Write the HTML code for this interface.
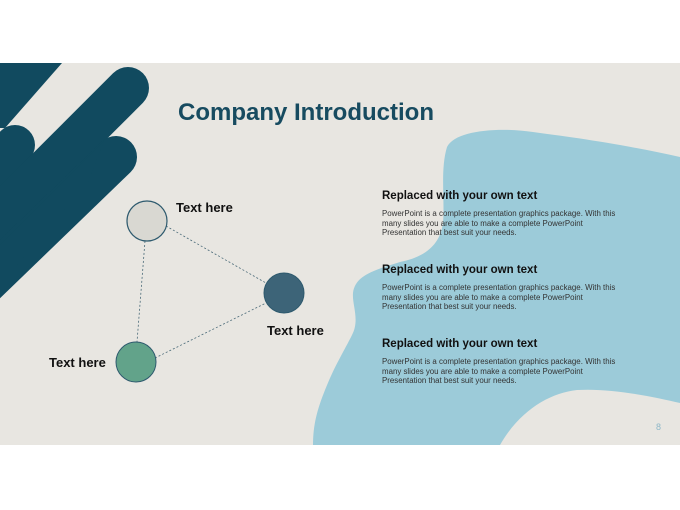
<!DOCTYPE html>
<html><head><style>
body{margin:0;width:680px;height:510px;background:#fff;position:relative;overflow:hidden;font-family:"Liberation Sans",sans-serif}
.t{position:absolute;white-space:nowrap}
.h{font-weight:bold;font-size:11.5px;color:#111}
.p{font-size:7.9px;line-height:9.6px;color:#333}
.l{font-weight:bold;font-size:13px;color:#111}
</style></head><body>
<svg style="position:absolute;left:0;top:0" width="680" height="510">
<defs><clipPath id="c"><rect x="0" y="63" width="680" height="382"/></clipPath></defs>
<rect x="0" y="63" width="680" height="382" fill="#e8e6e1"/>
<g clip-path="url(#c)">
<path d="M447,147 C455,130 500,127 533,132 C570,137 617,143 680,157 L680,403 C650,396 610,388 577,390 C550,393 520,410 500,445 L313,445 C313,425 317,410 325,390 C335,365 343,353 352,335 C360,320 352,305 353,293 C355,275 375,270 400,262 C425,257 440,245 443,223 C445,200 440,170 447,147 Z" fill="#9ccbd9"/>
<polygon points="0,63 62,63 5,128 0,128" fill="#114a5f"/>
<g stroke="#114a5f" stroke-linecap="round">
<line x1="15" y1="145" x2="-100" y2="260" stroke-width="40"/>
<line x1="128" y1="88" x2="-120" y2="336" stroke-width="42"/>
<line x1="116" y1="157" x2="-120" y2="385" stroke-width="42"/>
</g>
<polygon points="104,141 0,245 0,285 88,182" fill="#114a5f"/>
</g>
<g stroke="#4a6a78" stroke-width="0.8" stroke-dasharray="2,2" fill="none">
<line x1="166" y1="226" x2="266" y2="283"/>
<line x1="145" y1="241" x2="137" y2="342"/>
<line x1="155" y1="358" x2="266" y2="303"/>
</g>
<circle cx="147" cy="221" r="20" fill="#d9d8d2" stroke="#2e5a6e" stroke-width="1.2"/>
<circle cx="284" cy="293" r="20" fill="#3d6478" stroke="#2e5a6e" stroke-width="1"/>
<circle cx="136" cy="362" r="20" fill="#62a38a" stroke="#2e5a6e" stroke-width="1"/>
</svg>
<div class="t" style="left:178px;top:99px;font-size:24px;font-weight:bold;color:#174b60">Company Introduction</div>
<div class="t l" style="left:176px;top:200px">Text here</div>
<div class="t l" style="left:267px;top:323px">Text here</div>
<div class="t l" style="left:49px;top:355px">Text here</div>
<div class="t h" style="left:382px;top:190px">Replaced with your own text</div>
<div class="t p" style="left:382px;top:209px">PowerPoint is a complete presentation graphics package. With this<br>many slides you are able to make a complete PowerPoint<br>Presentation that best suit your needs.</div>
<div class="t h" style="left:382px;top:264px">Replaced with your own text</div>
<div class="t p" style="left:382px;top:283px">PowerPoint is a complete presentation graphics package. With this<br>many slides you are able to make a complete PowerPoint<br>Presentation that best suit your needs.</div>
<div class="t h" style="left:382px;top:338px">Replaced with your own text</div>
<div class="t p" style="left:382px;top:357px">PowerPoint is a complete presentation graphics package. With this<br>many slides you are able to make a complete PowerPoint<br>Presentation that best suit your needs.</div>
<div class="t" style="left:656px;top:422px;font-size:9px;color:#8fb8c8">8</div>
</body></html>
